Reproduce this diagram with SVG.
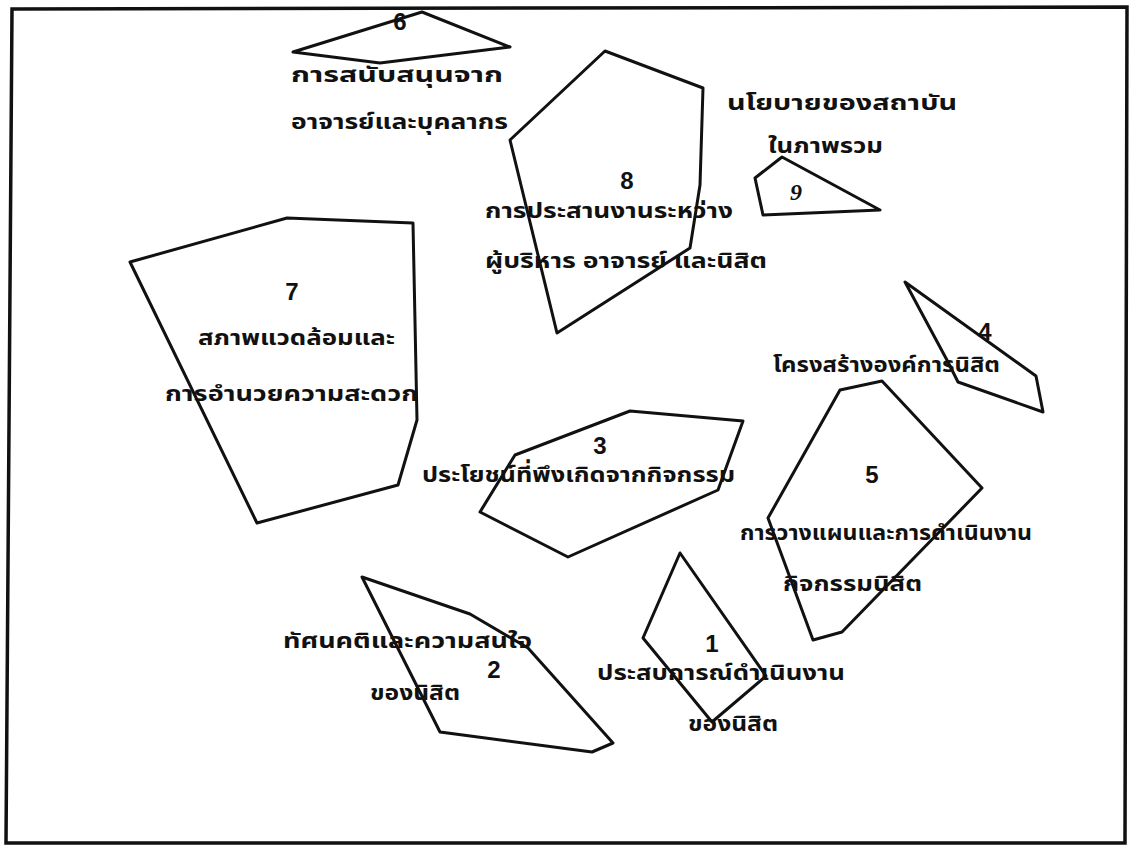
<svg xmlns="http://www.w3.org/2000/svg" width="1131" height="846" viewBox="0 0 1131 846">
<style>
.frame{fill:none;stroke:#111;stroke-width:3.5}
.poly{fill:none;stroke:#111;stroke-width:3;stroke-linejoin:round}
.num{font-family:"Liberation Sans",Arial,sans-serif;font-weight:bold;font-size:24px;fill:#111;text-anchor:middle}
.lbl{font-family:"Noto Sans Thai","Noto Sans","DejaVu Sans",sans-serif;font-weight:bold;font-size:22px;fill:#111}
</style>
<rect width="1131" height="846" fill="#fff"/>
<polygon class="frame" points="12,9 1127,7 1125,843 6,843"/>
<g id="node6">
<polygon class="poly" points="293,52 422,12 510,47 380,63"/>
<text class="num" x="400" y="30">6</text>
<text class="lbl" x="291" y="82" textLength="212" lengthAdjust="spacingAndGlyphs">การสนับสนุนจาก</text>
<text class="lbl" x="291" y="129" textLength="217" lengthAdjust="spacingAndGlyphs">อาจารย์และบุคลากร</text>
</g>
<g id="node8">
<polygon class="poly" points="510,140 605,51 703,88 700,185 690,248 557,333"/>
<text class="num" x="627" y="189">8</text>
<text class="lbl" x="485" y="218" textLength="248" lengthAdjust="spacingAndGlyphs">การประสานงานระหว่าง</text>
<text class="lbl" x="485" y="268" textLength="282" lengthAdjust="spacingAndGlyphs">ผู้บริหาร อาจารย์ และนิสิต</text>
</g>
<g id="node9">
<polygon class="poly" points="755,178 782,157 880,210 763,215"/>
<text class="lbl" x="727" y="110" textLength="230" lengthAdjust="spacingAndGlyphs">นโยบายของสถาบัน</text>
<text class="lbl" x="768" y="153" textLength="115" lengthAdjust="spacingAndGlyphs">ในภาพรวม</text>
<text class="num" x="796" y="200" style="font-family:'Liberation Serif',serif;font-style:italic">9</text>
</g>
<g id="node7">
<polygon class="poly" points="130,262 287,218 413,223 417,420 398,485 257,523"/>
<text class="num" x="292" y="300">7</text>
<text class="lbl" x="198" y="345" textLength="197" lengthAdjust="spacingAndGlyphs">สภาพแวดล้อมและ</text>
<text class="lbl" x="165" y="401" textLength="253" lengthAdjust="spacingAndGlyphs">การอำนวยความสะดวก</text>
</g>
<g id="node4">
<polygon class="poly" points="905,282 1036,376 1043,412 958,382 948,362"/>
<text class="num" x="985" y="340">4</text>
<text class="lbl" x="773" y="372" textLength="227" lengthAdjust="spacingAndGlyphs">โครงสร้างองค์การนิสิต</text>
</g>
<g id="node5">
<polygon class="poly" points="840,390 882,381 982,488 842,632 813,640 768,518"/>
<text class="num" x="872" y="483">5</text>
<text class="lbl" x="740" y="540" textLength="292" lengthAdjust="spacingAndGlyphs">การวางแผนและการดำเนินงาน</text>
<text class="lbl" x="783" y="591" textLength="139" lengthAdjust="spacingAndGlyphs">กิจกรรมนิสิต</text>
</g>
<g id="node3">
<polygon class="poly" points="630,411 743,421 718,490 568,557 480,512 515,455"/>
<text class="num" x="600" y="454">3</text>
<text class="lbl" x="422" y="482" textLength="313" lengthAdjust="spacingAndGlyphs">ประโยชน์ที่พึงเกิดจากกิจกรรม</text>
</g>
<g id="node2">
<polygon class="poly" points="362,577 470,614 528,648 613,743 592,752 440,732"/>
<text class="lbl" x="283" y="648" textLength="249" lengthAdjust="spacingAndGlyphs">ทัศนคติและความสนใจ</text>
<text class="num" x="494" y="678">2</text>
<text class="lbl" x="370" y="700" textLength="90" lengthAdjust="spacingAndGlyphs">ของนิสิต</text>
</g>
<g id="node1">
<polygon class="poly" points="680,553 766,676 712,722 643,638"/>
<text class="num" x="712" y="652">1</text>
<text class="lbl" x="597" y="680" textLength="248" lengthAdjust="spacingAndGlyphs">ประสบการณ์ดำเนินงาน</text>
<text class="lbl" x="688" y="731" textLength="90" lengthAdjust="spacingAndGlyphs">ของนิสิต</text>
</g>
<g id="connectors"></g>
</svg>
